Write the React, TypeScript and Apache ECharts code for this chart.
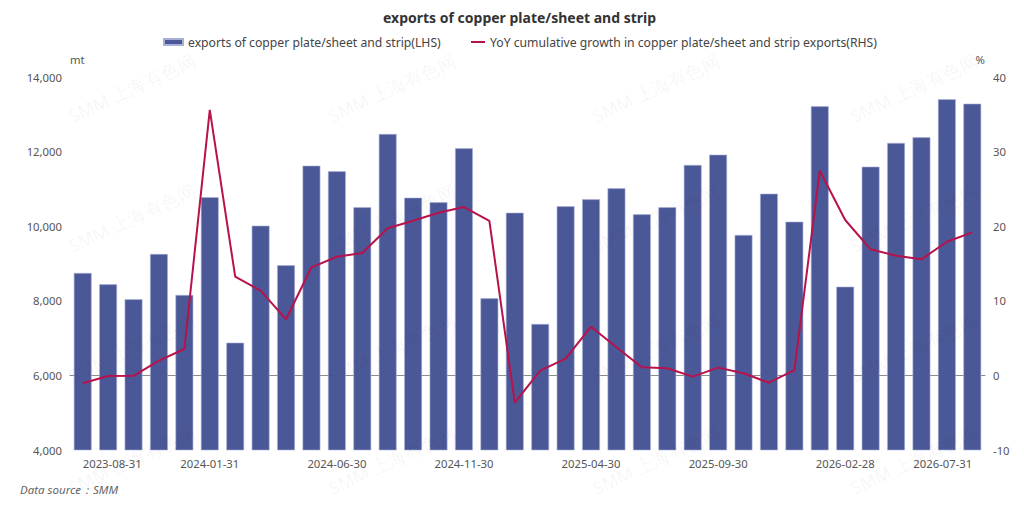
import React, { useEffect, useRef } from "react";
import * as echarts from "echarts";

const months = [
  "2023-08-31", "2023-09-30", "2023-10-31", "2023-11-30", "2023-12-31", "2024-01-31",
  "2024-02-29", "2024-03-31", "2024-04-30", "2024-05-31", "2024-06-30", "2024-07-31",
  "2024-08-31", "2024-09-30", "2024-10-31", "2024-11-30", "2024-12-31", "2025-01-31",
  "2025-02-28", "2025-03-31", "2025-04-30", "2025-05-31", "2025-06-30", "2025-07-31",
  "2025-08-31", "2025-09-30", "2025-10-31", "2025-11-30", "2025-12-31", "2026-01-31",
  "2026-02-28", "2026-03-31", "2026-04-30", "2026-05-31", "2026-06-30", "2026-07-31",
];

const exportsMt = [
  8745, 8442, 8040, 9255, 8155, 10775, 6877, 10013, 8952, 11622, 11472, 10507,
  12472, 10764, 10641, 12088, 8067, 10362, 7378, 10534, 10721, 11016, 10319, 10507,
  11641, 11917, 9764, 10871, 10121, 13214, 8378, 11595, 12231, 12383, 13402, 13284,
];

const yoyGrowth = [
  -1.06, -0.08, -0.05, 1.97, 3.54, 35.58, 13.23, 11.36, 7.52, 14.49, 15.91, 16.41,
  19.72, 20.74, 21.81, 22.57, 20.7, -3.66, 0.63, 2.24, 6.53, 3.77, 1.09, 0.95,
  -0.17, 1.04, 0.28, -0.98, 0.72, 27.44, 20.83, 16.9, 16.05, 15.56, 17.92, 19.18,
];

const barName = "exports of copper plate/sheet and strip(LHS)";
const lineName = "YoY cumulative growth in copper plate/sheet and strip exports(RHS)";
const titleText = "exports of copper plate/sheet and strip";
const sourceText = "Data source：SMM";
const watermarkText = "SMM 上海有色网";
const wmCols = [73, 333, 597, 855];
const wmRows = [125, 255, 385, 497];

const FONT = "'Noto Sans', sans-serif";
const LEGEND_FS = 12.2;
const AXIS_FS = 11.3;

export default function App() {
  const ref = useRef<HTMLDivElement>(null);
  useEffect(() => {
    if (!ref.current) return;
    const chart = echarts.init(ref.current, undefined, { renderer: "svg" });
    const watermarks: any[] = [];
    wmRows.forEach((y) =>
      wmCols.forEach((x) =>
        watermarks.push({
          type: "text",
          x,
          y,
          rotation: 0.43,
          silent: true,
          z: 100,
          style: {
            text: watermarkText,
            fontSize: 18,
            fontFamily: FONT,
            fill: "rgba(0,0,0,0.05)",
            textVerticalAlign: "bottom",
          },
        })
      )
    );
    chart.setOption({
      animation: false,
      textStyle: { fontFamily: FONT },
      title: {
        text: titleText,
        left: 378,
        top: 5,
        textStyle: { fontSize: 14, fontWeight: "bold", color: "#333", fontFamily: FONT },
      },
      legend: [
        {
          data: [{ name: barName, icon: "rect" }],
          left: 158,
          top: 31,
          itemWidth: 19,
          itemHeight: 6,
          itemGap: 5,
          textStyle: { fontSize: LEGEND_FS, color: "#444", fontFamily: FONT },
        },
        {
          data: [{ name: lineName, icon: "rect" }],
          left: 466,
          top: 31,
          itemWidth: 14,
          itemHeight: 2,
          textStyle: { fontSize: LEGEND_FS, color: "#444", fontFamily: FONT },
        },
      ],
      grid: { left: 70, right: 39, top: 77, bottom: 55, containLabel: false },
      xAxis: {
        type: "category",
        data: months,
        axisTick: { show: false },
        axisLine: { show: true, onZero: true, onZeroAxisIndex: 1, lineStyle: { color: "#8c8c8c", width: 1 } },
        axisLabel: {
          interval: 4,
          color: "#555",
          fontSize: AXIS_FS,
          margin: 8,
          alignMinLabel: "left",
          alignMaxLabel: "right",
        },
        splitLine: { show: false },
      },
      yAxis: [
        {
          type: "value",
          name: "mt",
          min: 4000,
          max: 14000,
          interval: 2000,
          nameGap: 12,
          nameTextStyle: { color: "#555", fontSize: AXIS_FS, align: "left" },
          axisLine: { show: false },
          axisTick: { show: false },
          splitLine: { show: false },
          axisLabel: {
            color: "#555",
            fontSize: AXIS_FS,
            formatter: (v: number) => v.toLocaleString("en-US"),
          },
        },
        {
          type: "value",
          name: "%",
          min: -10,
          max: 40,
          interval: 10,
          nameGap: 12,
          nameTextStyle: { color: "#555", fontSize: AXIS_FS, align: "right" },
          axisLine: { show: false },
          axisTick: { show: false },
          splitLine: { show: false },
          axisLabel: { color: "#555", fontSize: AXIS_FS },
        },
      ],
      series: [
        {
          name: barName,
          type: "bar",
          data: exportsMt,
          yAxisIndex: 0,
          barWidth: "70%",
          itemStyle: { color: "#4b5897", borderColor: "#a9b0d8", borderWidth: 0.6 },
        },
        {
          name: lineName,
          type: "line",
          data: yoyGrowth,
          yAxisIndex: 1,
          symbol: "none",
          lineStyle: { color: "#b8124a", width: 2 },
          itemStyle: { color: "#b8124a" },
        },
      ],
      graphic: [
        ...watermarks,
        {
          type: "text",
          left: 20,
          top: 483,
          style: {
            text: sourceText,
            fontSize: 11.5,
            fontStyle: "italic",
            fontFamily: FONT,
            fill: "#666",
          },
        },
      ],
    });
    return () => chart.dispose();
  }, []);
  return (
    <div
      ref={ref}
      style={{ position: "fixed", left: 0, top: 0, width: 1024, height: 505, background: "#fff" }}
    />
  );
}
